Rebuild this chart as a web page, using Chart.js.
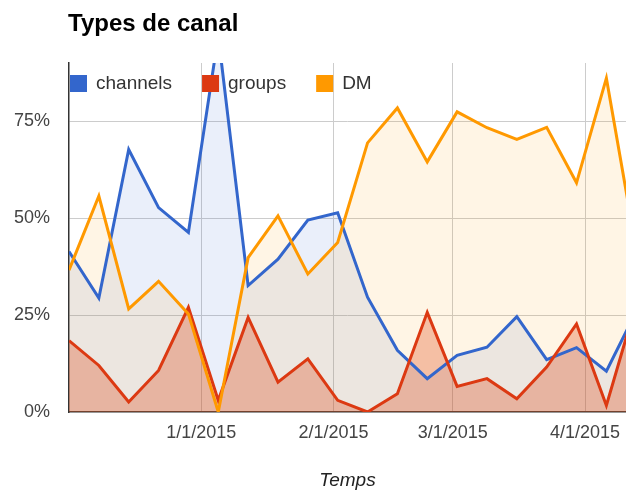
<!DOCTYPE html>
<html>
<head>
<meta charset="utf-8">
<title>Types de canal</title>
<script src="https://cdn.jsdelivr.net/npm/chart.js"></script>
<style>
  html, body { margin: 0; padding: 0; background: #fff; }
  #wrap { width: 626px; height: 495px; }
</style>
</head>
<body>
<div id="wrap"><canvas id="canalChart" width="626" height="495"></canvas></div>
<script>
// weekly samples (Mondays)
const weeks = [
  '2014-12-01', '2014-12-08', '2014-12-15', '2014-12-22', '2014-12-29',
  '2015-01-05', '2015-01-12', '2015-01-19', '2015-01-26', '2015-02-02',
  '2015-02-09', '2015-02-16', '2015-02-23', '2015-03-02', '2015-03-09',
  '2015-03-16', '2015-03-23', '2015-03-30', '2015-04-06', '2015-04-13'
];
const channels = [41.4, 29.4, 67.7, 52.7, 46.3, 97, 32.6, 39.4, 49.5, 51.4, 29.6, 15.9, 8.6, 14.6, 16.7, 24.6, 13.5, 16.6, 10.5, 26];
const groups   = [18.4, 12, 2.6, 10.7, 27, 3, 24.4, 7.7, 13.7, 3, 0, 4.7, 25.7, 6.6, 8.6, 3.4, 11.6, 22.7, 1.7, 28];
const dm       = [36.6, 55.7, 26.6, 33.7, 25.3, 0, 39.8, 50.6, 35.6, 43.7, 69.4, 78.4, 64.5, 77.4, 73.3, 70.3, 73.4, 59.1, 86.1, 42];

const tickDates  = ['2015-01-01', '2015-02-01', '2015-03-01', '2015-04-01'];
const tickLabels = ['1/1/2015', '2/1/2015', '3/1/2015', '4/1/2015'];
const yTicks = [0, 25, 50, 75];

const seriesNames = ['channels', 'groups', 'DM'];
const colors = ['#3366cc', '#dc3912', '#ff9900'];

// days since the first sample
const start = Date.parse(weeks[0]);
const day = d => (Date.parse(d) - start) / 86400000;
const xs = weeks.map(day);
const tickDays = tickDates.map(day);

const FONT = "'Liberation Sans', Arial, sans-serif";

function rgba(hex, a) {
  const n = parseInt(hex.slice(1), 16);
  return `rgba(${n >> 16}, ${(n >> 8) & 255}, ${n & 255}, ${a})`;
}

function series(values, i, alpha, order) {
  return {
    label: seriesNames[i],
    data: values.map((v, k) => ({ x: xs[k], y: v })),
    borderColor: colors[i],
    backgroundColor: rgba(colors[i], alpha),
    borderWidth: 3,
    pointRadius: 0,
    tension: 0,
    fill: 'origin',
    order: order
  };
}

// title + legend drawn inside the plot like the original
const decor = {
  id: 'decor',
  afterDatasetsDraw(chart) {
    const ctx = chart.ctx;
    const left = chart.chartArea.left;
    ctx.save();
    ctx.fillStyle = '#000';
    ctx.font = 'bold 24px ' + FONT;
    ctx.textBaseline = 'alphabetic';
    ctx.textAlign = 'left';
    ctx.fillText('Types de canal', left - 1, 31);

    ctx.font = '19px ' + FONT;
    ctx.textBaseline = 'middle';
    let x = left + 1;
    seriesNames.forEach((name, i) => {
      ctx.fillStyle = colors[i];
      ctx.fillRect(x, 75, 17, 17);
      ctx.fillStyle = '#333';
      ctx.fillText(name, x + 26, 84);
      x += 26 + ctx.measureText(name).width + 30;
    });
    ctx.restore();
  }
};

new Chart(document.getElementById('canalChart'), {
  type: 'line',
  data: {
    datasets: [
      series(channels, 0, 0.1, 3),
      series(groups, 1, 0.3, 2),
      series(dm, 2, 0.1, 1)
    ]
  },
  options: {
    responsive: false,
    animation: false,
    devicePixelRatio: 1,
    layout: { padding: { top: 63, left: 0, right: 0, bottom: 0 } },
    plugins: {
      legend: { display: false },
      title: { display: false },
      tooltip: { enabled: false },
      filler: { drawTime: 'beforeDatasetsDraw' }
    },
    scales: {
      x: {
        type: 'linear',
        min: 0,
        max: 130.6,
        afterBuildTicks: s => { s.ticks = tickDays.map(v => ({ value: v })); },
        afterFit: s => { s.height = 83; s.paddingLeft = 0; s.paddingRight = 0; },
        ticks: {
          callback: (v) => tickLabels[tickDays.indexOf(v)],
          color: '#444',
          font: { family: FONT, size: 18 },
          padding: 10,
          maxRotation: 0,
          autoSkip: false
        },
        grid: { color: '#cccccc', lineWidth: 1, drawTicks: false },
        border: { color: '#333', width: 1.5 },
        title: {
          display: true,
          text: 'Temps',
          color: '#222',
          font: { family: FONT, size: 19, style: 'italic' },
          padding: { top: 0, bottom: 3 }
        }
      },
      y: {
        min: 0,
        max: 90,
        afterBuildTicks: s => { s.ticks = yTicks.map(v => ({ value: v })); },
        afterFit: s => { s.width = 69; },
        ticks: {
          callback: v => v + '%',
          color: '#444',
          font: { family: FONT, size: 18 },
          padding: 19
        },
        grid: {
          color: c => (c.tick && c.tick.value === 0 ? 'rgba(0,0,0,0)' : '#cccccc'),
          lineWidth: 1,
          drawTicks: false
        },
        border: { color: '#333', width: 1.5 }
      }
    }
  },
  plugins: [decor]
});
</script>
</body>
</html>
